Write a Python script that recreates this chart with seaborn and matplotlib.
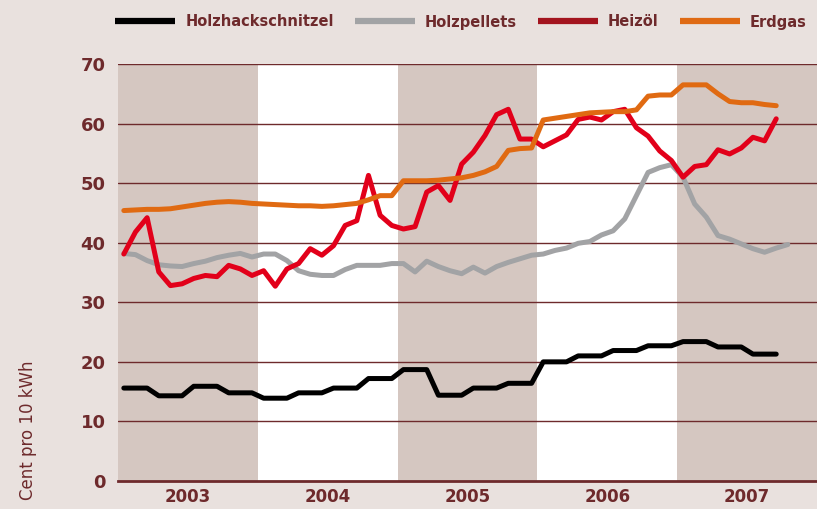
import numpy as np
import pandas as pd
import matplotlib.pyplot as plt
import seaborn as sns
from matplotlib.lines import Line2D

# Monatswerte Jan 2003 - Sep 2007 (Cent pro 10 kWh)
holzhack = [15.6, 15.6, 15.6, 14.3, 14.3, 14.3, 15.9, 15.9, 15.9, 14.8, 14.8, 14.8,
            13.9, 13.9, 13.9, 14.8, 14.8, 14.8, 15.6, 15.6, 15.6, 17.2, 17.2, 17.2,
            18.7, 18.7, 18.7, 14.4, 14.4, 14.4, 15.6, 15.6, 15.6, 16.4, 16.4, 16.4,
            20.0, 20.0, 20.0, 21.0, 21.0, 21.0, 21.9, 21.9, 21.9, 22.7, 22.7, 22.7,
            23.4, 23.4, 23.4, 22.5, 22.5, 22.5, 21.3, 21.3, 21.3]
pellets = [38.2, 38.0, 37.0, 36.3, 36.1, 36.0, 36.5, 36.9, 37.5, 37.9, 38.2, 37.6,
           38.1, 38.1, 37.0, 35.3, 34.7, 34.5, 34.5, 35.5, 36.2, 36.2, 36.2, 36.5,
           36.5, 35.1, 36.9, 36.0, 35.3, 34.8, 35.9, 34.9, 36.0, 36.7, 37.3, 37.9,
           38.1, 38.7, 39.1, 39.9, 40.2, 41.3, 42.0, 44.0, 47.9, 51.8, 52.6, 53.1,
           51.0, 46.5, 44.3, 41.2, 40.6, 39.8, 39.0, 38.4, 39.1, 39.7]
heizoel = [38.1, 41.8, 44.2, 35.1, 32.8, 33.1, 34.0, 34.5, 34.3, 36.2, 35.6, 34.5,
           35.3, 32.7, 35.6, 36.5, 39.0, 37.9, 39.5, 42.9, 43.7, 51.3, 44.6, 42.9,
           42.3, 42.7, 48.5, 49.6, 47.1, 53.2, 55.2, 58.0, 61.5, 62.4, 57.4, 57.4,
           56.1, 57.1, 58.1, 60.7, 61.1, 60.6, 62.0, 62.4, 59.3, 57.9, 55.4, 53.8,
           51.0, 52.8, 53.1, 55.6, 54.9, 55.9, 57.7, 57.1, 60.8]
erdgas = [45.4, 45.5, 45.6, 45.6, 45.7, 46.0, 46.3, 46.6, 46.8, 46.9, 46.8, 46.6,
          46.5, 46.4, 46.3, 46.2, 46.2, 46.1, 46.2, 46.4, 46.6, 47.2, 47.9, 47.9,
          50.4, 50.4, 50.4, 50.5, 50.7, 50.9, 51.3, 51.9, 52.8, 55.5, 55.8, 55.9,
          60.6, 60.9, 61.2, 61.5, 61.8, 61.9, 62.0, 62.0, 62.3, 64.6, 64.8, 64.8,
          66.5, 66.5, 66.5, 65.0, 63.7, 63.5, 63.5, 63.2, 63.0]

years = [2003, 2004, 2005, 2006, 2007]
serien = ['Holzhackschnitzel', 'Holzpellets', 'Heizöl', 'Erdgas']
farben = ['#000000', '#A2A3A5', '#E2001A', '#E06A12']
legend_farben = ['#000000', '#A2A3A5', '#A3141E', '#DF6A14']

# Long-Format fuer seaborn
teile = []
for name, werte in zip(serien, [holzhack, pellets, heizoel, erdgas]):
    monat = np.arange(len(werte))
    teile.append(pd.DataFrame({'Jahr': 2003 + (monat + 0.5) / 12, 'Wert': werte, 'Serie': name}))
df = pd.concat(teile, ignore_index=True)

braun = '#6E2A2C'
hg = '#E9E1DE'
band = '#D5C7C1'

sns.set_theme(style="white")
plt.rcParams['font.family'] = ['DejaVu Sans']

fig = plt.figure(figsize=(8.17, 5.09), dpi=100, facecolor=hg)
ax = fig.add_axes([118 / 817, 1 - 481 / 509, 1 - 118 / 817, (481 - 64) / 509])
ax.set_facecolor('white')

# Jahresbaender
for j in years[::2]:
    ax.axvspan(j, j + 1, color=band, lw=0, zorder=0.5)

# Gitterlinien
for yv in range(10, 80, 10):
    ax.axhline(yv, color=braun, lw=1.0, zorder=1)

sns.lineplot(data=df, x='Jahr', y='Wert', hue='Serie', hue_order=serien,
             palette=farben, linewidth=3.6, ax=ax, legend=False, zorder=3)

ax.set_xlim(2003, 2003 + (817 - 118) / 140)
ax.set_ylim(0, 70)
ax.set_yticks(range(0, 80, 10))
ax.set_yticklabels([str(v) for v in range(0, 80, 10)], fontsize=13, fontweight='bold', color=braun)
ax.tick_params(axis='y', length=0, pad=9)

ax.set_xticks(years + [2008])
ax.set_xticklabels([])
ax.set_xticks([j + 0.5 for j in years], minor=True)
ax.set_xticklabels([str(j) for j in years], minor=True, fontsize=12, fontweight='bold', color=braun)
ax.tick_params(axis='x', which='major', length=15, width=1.2, color=braun, direction='out')
ax.tick_params(axis='x', which='minor', length=0, pad=5)

for s in ['top', 'right', 'left']:
    ax.spines[s].set_visible(False)
ax.spines['bottom'].set_color(braun)
ax.spines['bottom'].set_linewidth(2)
ax.set_xlabel('')
ax.set_ylabel('')

fig.text(28 / 817, 1 - 430 / 509, 'Cent pro 10 kWh', rotation=90, ha='center', va='center',
         fontsize=12, color=braun)

handles = [Line2D([], [], color=c, lw=4.5, solid_capstyle='butt') for c in legend_farben]
leg = fig.legend(handles, serien, loc='center', bbox_to_anchor=(461 / 817, 1 - 22 / 509), ncol=4,
                 frameon=False, handlelength=4.1, handletextpad=0.7, columnspacing=1.45,
                 prop={'size': 10.5, 'weight': 'bold'})
for t in leg.get_texts():
    t.set_color(braun)

fig.savefig('out.png', dpi=100, facecolor=hg)
